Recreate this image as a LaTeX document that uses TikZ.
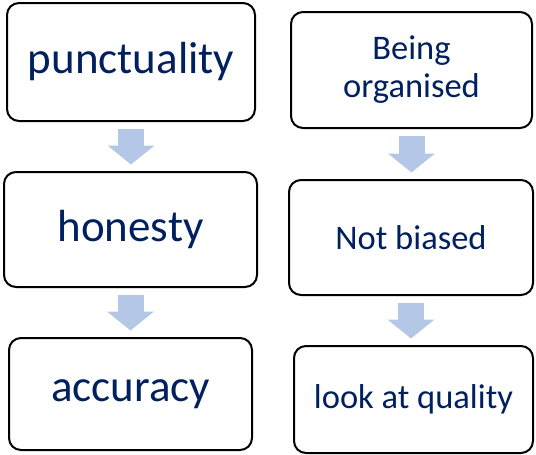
\documentclass[tikz,border=0pt]{standalone}
\usepackage{fontspec}
\setmainfont{Carlito}
\usetikzlibrary{arrows.meta}
\definecolor{txtblue}{RGB}{0,32,96}
\definecolor{arrowblue}{RGB}{180,199,231}
\tikzset{
  box/.style={draw=black, line width=2pt, rounded corners=12pt, fill=white,
    inner sep=0pt, text=txtblue, align=center},
  bigtext/.style={font=\fontsize{45}{50}\selectfont},
  smalltext/.style={font=\fontsize{34.5}{38}\selectfont},
  flowarrow/.style={draw=arrowblue, line width=26pt, line cap=butt,
    -{Triangle[length=19pt, width=46pt]}, shorten <=6.5pt, shorten >=6.5pt}
}
\begin{document}
\begin{tikzpicture}[x=1pt, y=-1pt]
\useasboundingbox (0,0) rectangle (536,455);
\node[box, bigtext, minimum width=248pt, minimum height=118pt] (l1) at (131,62) {punctuality};
\node[box, bigtext, minimum width=253pt, minimum height=115pt] (l2) at (130.5,229.5) {honesty};
\node[box, bigtext, minimum width=243pt, minimum height=112pt] (l3) at (130.5,394) {accuracy};
\node[box, smalltext, minimum width=241pt, minimum height=116pt] (r1) at (411.5,70) {Being\\organised};
\node[box, smalltext, minimum width=244pt, minimum height=115pt] (r2) at (411,237.5) {Not biased};
\node[box, smalltext, minimum width=239pt, minimum height=107pt] (r3) at (413.5,399.5) {look at quality};
\draw[flowarrow] (l1.south) -- (l1.south |- l2.north);
\draw[flowarrow] (l2.south) -- (l2.south |- l3.north);
\draw[flowarrow] (r1.south) -- (r1.south |- r2.north);
\draw[flowarrow] (r2.south) -- (r2.south |- r3.north);
\end{tikzpicture}
\end{document}
